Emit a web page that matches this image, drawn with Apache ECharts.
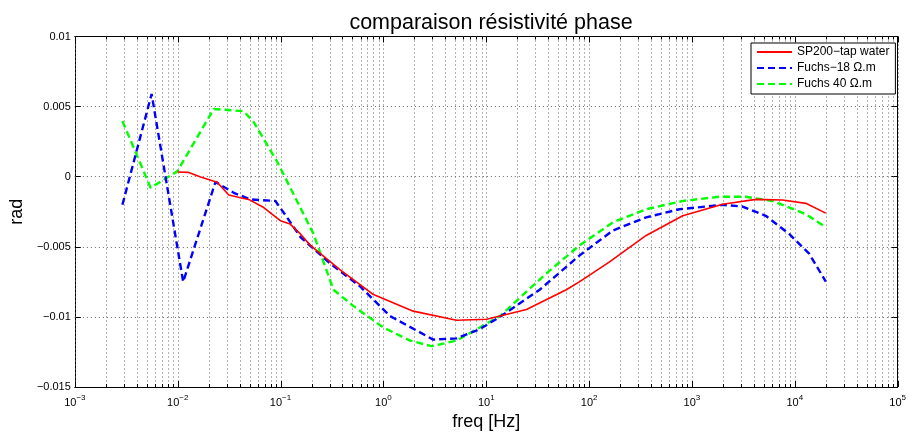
<!DOCTYPE html>
<html>
<head>
<meta charset="utf-8">
<script src="https://cdn.jsdelivr.net/npm/echarts@6/dist/echarts.min.js"></script>
<style>
  html, body { margin: 0; padding: 0; background: #fff; }
  #chart { width: 909px; height: 436px; }
</style>
</head>
<body>
<div id="chart"></div>
<script>
// Phase spectra (rad) against frequency (Hz)
const sp200Freq  = [0.01, 0.0126, 0.0167, 0.0242, 0.0314, 0.0407, 0.049, 0.0686, 0.0995, 0.124, 0.156, 0.195, 0.38, 0.8, 1.95, 5.15, 10.1, 24.6, 60, 81, 158, 359, 813, 1990, 4180, 7590, 12800, 20000];
const sp200Phase = [0.00033, 0.00031, -0.00002, -0.00039, -0.00131, -0.0015, -0.00162, -0.0022, -0.00314, -0.00338, -0.00408, -0.0049, -0.00665, -0.00841, -0.00959, -0.01024, -0.01017, -0.00947, -0.00806, -0.00748, -0.00607, -0.00419, -0.00279, -0.00197, -0.00162, -0.00166, -0.0019, -0.0026];

const fuchs18Freq  = [0.0029, 0.00558, 0.0113, 0.0233, 0.0351, 0.0509, 0.0891, 0.1156, 0.156, 0.304, 0.594, 1.16, 3.05, 5.15, 8.67, 13.6, 33.1, 81, 170, 359, 755, 1990, 3100, 5220, 8810, 13800, 20000];
const fuchs18Phase = [-0.002, 0.0059, -0.0075, -0.00037, -0.00115, -0.00162, -0.00173, -0.0029, -0.0043, -0.00619, -0.00783, -0.00994, -0.01162, -0.01153, -0.01087, -0.00999, -0.00806, -0.00561, -0.00384, -0.0029, -0.00232, -0.00201, -0.00213, -0.00279, -0.00408, -0.00549, -0.00748];

const fuchs40Freq  = [0.0029, 0.00546, 0.0099, 0.0224, 0.0439, 0.0548, 0.0925, 0.15, 0.209, 0.327, 0.512, 1.0, 1.82, 2.94, 5.15, 13.6, 38.5, 81, 170, 359, 813, 1850, 3340, 6070, 12800, 20000];
const fuchs40Phase = [0.00397, -0.0008, 0.00038, 0.00483, 0.00467, 0.0039, 0.00108, -0.00197, -0.00408, -0.00806, -0.00923, -0.01076, -0.01169, -0.01209, -0.01169, -0.00994, -0.00689, -0.00489, -0.00326, -0.00232, -0.00173, -0.00143, -0.00143, -0.00173, -0.00267, -0.00361];

const seriesNames = ['SP200\u2212tap water', 'Fuchs\u221218 \u03A9.m', 'Fuchs 40 \u03A9.m'];

// Axis limits and ticks
const xMin = 1e-3, xMax = 1e5;
const yMin = -0.015, yMax = 0.01, yStep = 0.005;
const decadeExponents = [-3, -2, -1, 0, 1, 2, 3, 4, 5];

// Grid positions along the log axis: decades (major) and 2..9 multiples (minor)
const gridPositions = [];
decadeExponents.forEach(function (e) {
  const base = Math.pow(10, e);
  gridPositions.push([base, 0, 1]);
  if (e < 5) {
    for (let m = 2; m <= 9; m++) gridPositions.push([m * base, 0, 0]);
  }
});

const zip = (xs, ys) => xs.map((x, i) => [x, ys[i]]);
const FONT = '"Liberation Sans", Arial, Helvetica, sans-serif';
const minus = s => String(s).replace(/-/g, '\u2212');

const chart = echarts.init(document.getElementById('chart'), null, { renderer: 'canvas' });

const option = {
  animation: false,
  backgroundColor: '#fff',
  textStyle: { fontFamily: FONT },
  title: {
    text: 'comparaison r\u00e9sistivit\u00e9 phase',
    left: 486, top: 7, textAlign: 'center',
    textStyle: { fontFamily: FONT, fontSize: 21.5, fontWeight: 'normal', color: '#000' }
  },
  grid: { left: 74, right: 10, top: 36.5, bottom: 43.5, containLabel: false },
  legend: {
    orient: 'vertical',
    left: 751, top: 43,
    width: 143,
    padding: [3, 6, 4, 5],
    itemGap: 4,
    itemWidth: 35, itemHeight: 12,
    backgroundColor: '#fff',
    borderColor: '#000', borderWidth: 1, borderRadius: 0,
    itemStyle: { opacity: 0 },
    textStyle: { fontFamily: FONT, fontSize: 12, color: '#000' },
    data: seriesNames
  },
  xAxis: [{
    type: 'log', logBase: 10, min: xMin, max: xMax, splitNumber: 8,
    position: 'bottom',
    name: 'freq [Hz]', nameLocation: 'middle', nameGap: 26,
    nameTextStyle: { fontFamily: FONT, fontSize: 18, color: '#000' },
    axisLine: { show: true, onZero: false, lineStyle: { color: '#000', width: 1 } },
    axisTick: { show: false },
    splitLine: { show: false },
    minorTick: { show: false }, minorSplitLine: { show: false },
    axisLabel: {
      margin: 7, color: '#000',
      formatter: function (v) {
        const e = Math.round(Math.log10(v));
        return '{b|10}{s|' + minus(e) + '}';
      },
      rich: {
        b: { fontFamily: FONT, fontSize: 11, color: '#000', verticalAlign: 'bottom', lineHeight: 14 },
        s: { fontFamily: FONT, fontSize: 8, color: '#000', verticalAlign: 'top', lineHeight: 14, padding: [0, 0, 6, 0] }
      }
    }
  }, {
    type: 'log', logBase: 10, min: xMin, max: xMax, splitNumber: 8,
    position: 'top',
    axisLine: { show: true, onZero: false, lineStyle: { color: '#000', width: 1 } },
    axisTick: { show: false }, axisLabel: { show: false }, splitLine: { show: false }
  }],
  yAxis: [{
    type: 'value', min: yMin, max: yMax, interval: yStep,
    position: 'left',
    name: 'rad', nameLocation: 'middle', nameGap: 48,
    nameTextStyle: { fontFamily: FONT, fontSize: 18, color: '#000' },
    axisLine: { show: true, onZero: false, lineStyle: { color: '#000', width: 1 } },
    axisTick: { show: true, inside: true, length: 6, lineStyle: { color: '#000' } },
    splitLine: { show: true, lineStyle: { color: '#666', width: 1, type: [1, 3] } },
    axisLabel: {
      margin: 4, color: '#000', fontFamily: FONT, fontSize: 11,
      formatter: v => minus(parseFloat(v.toFixed(4)))
    }
  }, {
    type: 'value', min: yMin, max: yMax, interval: yStep,
    position: 'right',
    axisLine: { show: true, onZero: false, lineStyle: { color: '#000', width: 1 } },
    axisTick: { show: true, inside: true, length: 6, lineStyle: { color: '#000' } },
    axisLabel: { show: false }, splitLine: { show: false }
  }],
  series: [{
    type: 'custom',
    name: 'grid',
    silent: true,
    xAxisIndex: 0, yAxisIndex: 0,
    z: 1,
    clip: false,
    renderItem: function (params, api) {
      const f = api.value(0);
      const major = api.value(2) === 1;
      const top = api.coord([f, yMax]);
      const bot = api.coord([f, yMin]);
      const x = Math.round(top[0]) + 0.5;
      const len = major ? 6 : 3;
      const children = [{
        type: 'line',
        shape: { x1: x, y1: top[1], x2: x, y2: bot[1] },
        style: { stroke: '#666', lineWidth: 1, lineDash: [1, 3] }
      }, {
        type: 'line',
        shape: { x1: x, y1: top[1], x2: x, y2: top[1] + len },
        style: { stroke: '#000', lineWidth: 1 }
      }, {
        type: 'line',
        shape: { x1: x, y1: bot[1], x2: x, y2: bot[1] - len },
        style: { stroke: '#000', lineWidth: 1 }
      }];
      return { type: 'group', children: children };
    },
    data: gridPositions
  }, {
    name: seriesNames[0], type: 'line', symbol: 'none', z: 5,
    data: zip(sp200Freq, sp200Phase),
    lineStyle: { color: '#ff0000', width: 1.6 },
    itemStyle: { color: '#ff0000' }
  }, {
    name: seriesNames[1], type: 'line', symbol: 'none', z: 4,
    data: zip(fuchs18Freq, fuchs18Phase),
    lineStyle: { color: '#0000ff', width: 2.4, type: [7, 4] },
    itemStyle: { color: '#0000ff' }
  }, {
    name: seriesNames[2], type: 'line', symbol: 'none', z: 3,
    data: zip(fuchs40Freq, fuchs40Phase),
    lineStyle: { color: '#00ff00', width: 2.4, type: [7, 4] },
    itemStyle: { color: '#00ff00' }
  }]
};

chart.setOption(option);
</script>
</body>
</html>
